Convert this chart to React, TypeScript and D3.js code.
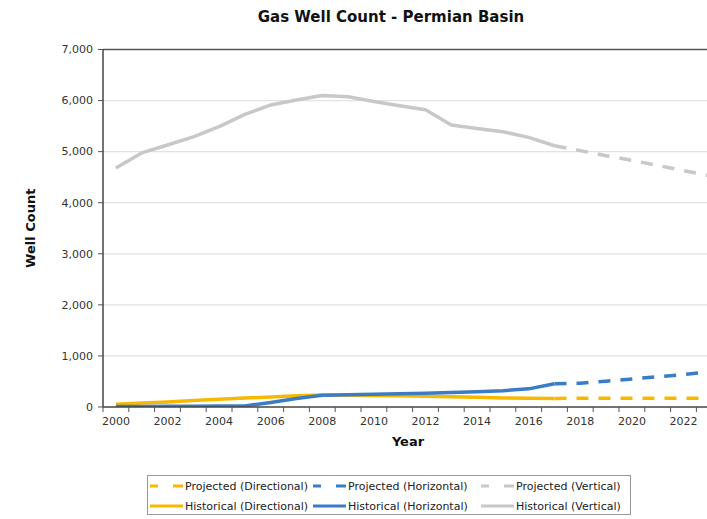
import React from "react";
import * as d3 from "d3";

const years = d3.range(2000, 2024);
const histYears = d3.range(2000, 2018);
const projYears = d3.range(2017, 2024);
const yTicks = [0, 1000, 2000, 3000, 4000, 5000, 6000, 7000];
const xLabelYears = d3.range(2000, 2024, 2);

const dirHist = [55, 80, 100, 125, 150, 175, 195, 218, 235, 232, 226, 218, 210, 200, 190, 178, 170, 168];
const dirProj = [168, 170, 170, 170, 170, 170, 170];
const horzHist = [10, 12, 14, 16, 18, 22, 90, 165, 232, 240, 250, 260, 270, 285, 297, 320, 355, 455];
const horzProj = [455, 465, 505, 548, 594, 635, 690];
const vertHist = [4680, 4975, 5130, 5290, 5490, 5730, 5915, 6010, 6100, 6075, 5980, 5900, 5820, 5520, 5455, 5390, 5280, 5115];
const vertProj = [5115, 5020, 4920, 4830, 4730, 4630, 4530];

const YELLOW = "#f7b900";
const BLUE = "#3a7dc4";
const GRAY = "#c8c8c8";

const legendItems = [
  { label: "Projected (Directional)", color: YELLOW, dashed: true },
  { label: "Projected (Horizontal)", color: BLUE, dashed: true },
  { label: "Projected (Vertical)", color: GRAY, dashed: true },
  { label: "Historical (Directional)", color: YELLOW, dashed: false },
  { label: "Historical (Horizontal)", color: BLUE, dashed: false },
  { label: "Historical (Vertical)", color: GRAY, dashed: false },
];

export default function App() {
  const W = 707;
  const H = 519;
  const left = 103;
  const top = 49.5;
  const bottom = 407;
  const font = "DejaVu Sans, Verdana, sans-serif";

  const x = d3.scaleBand<number>().domain(years).range([left, left + 24 * 25.8]).padding(0);
  const y = d3.scaleLinear().domain([0, 7000]).range([bottom, top]);
  const cx = (yr: number) => (x(yr) as number) + x.bandwidth() / 2;

  const line = (yrs: number[], vals: number[]) =>
    d3
      .line<number>()
      .x((_, i) => cx(yrs[i]))
      .y((v) => y(v))(vals) as string;

  const series = [
    { yrs: projYears, vals: dirProj, color: YELLOW, dashed: true },
    { yrs: projYears, vals: horzProj, color: BLUE, dashed: true },
    { yrs: projYears, vals: vertProj, color: GRAY, dashed: true },
    { yrs: histYears, vals: dirHist, color: YELLOW, dashed: false },
    { yrs: histYears, vals: horzHist, color: BLUE, dashed: false },
    { yrs: histYears, vals: vertHist, color: GRAY, dashed: false },
  ];

  const fmt = d3.format(",");
  const boundaries = years.map((yr) => x(yr) as number).concat([(x(2023) as number) + x.bandwidth()]);

  const legX = [150, 313, 481];
  const legY = [486, 506];

  return (
    <svg width={W} height={H} style={{ position: "absolute", left: 0, top: 0, background: "#fff" }} fontFamily={font}>
      <defs>
        <clipPath id="plot">
          <rect x={left} y={top - 5} width={W - left} height={bottom - top + 5} />
        </clipPath>
      </defs>
      <text x={391} y={22} textAnchor="middle" fontSize={15} fontWeight="bold" fill="#111">
        Gas Well Count - Permian Basin
      </text>

      {yTicks.map((t) => (
        <g key={t}>
          {t > 0 && t < 7000 && <line x1={left} x2={W} y1={y(t)} y2={y(t)} stroke="#e2e2e2" strokeWidth={1.2} />}
          <line x1={left - 5} x2={left} y1={y(t)} y2={y(t)} stroke="#555" />
          <text x={left - 10} y={y(t)} dy="0.35em" textAnchor="end" fontSize={11} fill="#333">
            {fmt(t)}
          </text>
        </g>
      ))}
      <line x1={left} x2={W} y1={top} y2={top} stroke="#555" strokeWidth={1.5} />

      <g clipPath="url(#plot)">
        {series.map((s, i) => (
          <path
            key={i}
            d={line(s.yrs, s.vals)}
            fill="none"
            stroke={s.color}
            strokeWidth={3.5}
            strokeDasharray={s.dashed ? "12,10" : undefined}
            strokeLinecap="butt"
            strokeLinejoin="round"
          />
        ))}
      </g>

      <line x1={left} x2={left} y1={top} y2={bottom} stroke="#444" strokeWidth={1.5} />
      <line x1={left} x2={W} y1={bottom} y2={bottom} stroke="#444" strokeWidth={1.5} />
      {boundaries.map((bx, i) => (
        <line key={i} x1={bx} x2={bx} y1={bottom} y2={bottom + 5} stroke="#555" />
      ))}
      {xLabelYears.map((yr) => (
        <text key={yr} x={cx(yr)} y={425} textAnchor="middle" fontSize={11} fill="#333">
          {yr}
        </text>
      ))}

      <text x={408} y={446} textAnchor="middle" fontSize={13} fontWeight="bold" fill="#111">
        Year
      </text>
      <text
        transform={`translate(35,${(top + bottom) / 2}) rotate(-90)`}
        textAnchor="middle"
        fontSize={13}
        fontWeight="bold"
        fill="#111"
      >
        Well Count
      </text>

      <rect x={147.5} y={475.5} width={483} height={39} fill="#fff" stroke="#999" />
      {legendItems.map((it, i) => {
        const lx = legX[i % 3];
        const ly = legY[Math.floor(i / 3)];
        return (
          <g key={it.label}>
            <line
              x1={lx}
              x2={lx + 33}
              y1={ly}
              y2={ly}
              stroke={it.color}
              strokeWidth={3}
              strokeDasharray={it.dashed ? "8,15,10" : undefined}
            />
            <text x={lx + 35} y={ly} dy="0.35em" fontSize={11} fill="#222">
              {it.label}
            </text>
          </g>
        );
      })}
    </svg>
  );
}
